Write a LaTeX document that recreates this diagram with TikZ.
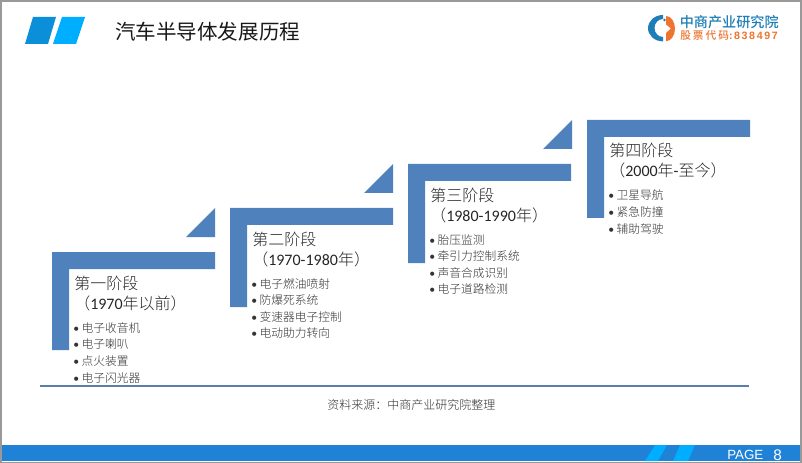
\documentclass[tikz,border=0pt]{standalone}
\usepackage{fontspec}
\setmainfont{Carlito}
\newfontfamily\cjk{Noto Sans CJK SC}
\newfontfamily\cjklight{Noto Sans CJK SC Light}
\newfontfamily\cjkmed{Noto Sans CJK SC Medium}
\newfontfamily\cjkmedsp[LetterSpace=19]{Noto Sans CJK SC Medium}
\newfontfamily\arialf{Liberation Sans}
\newfontfamily\arialsp[LetterSpace=15,BoldFont={Liberation Sans Bold}]{Liberation Sans}
\definecolor{stepblue}{HTML}{4F81BD}
\definecolor{barblue}{HTML}{1F82D6}
\definecolor{lightcyan}{HTML}{00AEFF}
\definecolor{darkcyan}{HTML}{0A8FD8}
\definecolor{logoblue}{HTML}{1E7FB8}
\definecolor{logoorange}{HTML}{EE7430}
\definecolor{rulegrey}{HTML}{999999}
\definecolor{rulenavy}{HTML}{5B7FA8}
\tikzset{
  stepfill/.style={fill=stepblue,draw=none},
  headtext/.style={inner sep=0pt,anchor=west,font=\cjklight\fontsize{12}{14}\selectfont,text=black!85},
  itemtext/.style={inner sep=0pt,anchor=west,font=\cjklight\fontsize{8.8}{10}\selectfont,text=black!80},
}
\newcommand{\yr}[1]{{\fontspec{Carlito}#1}}
\begin{document}
\begin{tikzpicture}[x=0.75pt,y=-0.75pt]
\useasboundingbox (0,0) rectangle (802,463);
\fill[white] (0,0) rectangle (802,463);
% frame
\fill[barblue] (0,445) rectangle (802,461);
\draw[rulegrey,line width=1.5pt] (0.7,463) -- (0.7,0.9) -- (801.3,0.9) -- (801.3,463);
\draw[rulegrey,line width=1.2pt] (0,462.4) -- (802,462.4);
% header marks
\fill[darkcyan] (25,44) -- (33,17) -- (56,17) -- (48,44) -- cycle;
\fill[lightcyan] (53,44) -- (62,17) -- (85,17) -- (76,44) -- cycle;
\node[inner sep=0pt,anchor=west,font=\cjk\fontsize{15.4}{18}\selectfont,text=black!90] (title) at (115,31.5) {汽车半导体发展历程};
% logo
\fill[logoblue] (663,15) arc (270:90:15 and 13.2) -- (663,37) arc (90:270:8.5 and 9) -- cycle;
\fill[logoorange] (666,16) arc (270:450:9 and 12.6) -- (666,33) -- (671,28.5) -- (666,24.5) -- cycle;
\fill[logoblue] (664.5,20) circle (1.3);
\node[inner sep=0pt,anchor=west,font=\cjkmed\fontsize{10.6}{12}\selectfont,text=logoblue] (brand) at (679.5,22.5) {中商产业研究院};
\node[inner sep=0pt,anchor=west,font=\cjkmedsp\fontsize{8}{9}\selectfont,text=logoorange] (code) at (680,36) {股票代码{\arialsp\bfseries :838497}};
% stage 1
\fill[stepfill] (52,252) -- (215,252) -- (215,269) -- (69,269) -- (69,350) -- (52,350) -- cycle;
\fill[stepfill] (186,237) -- (215,208) -- (215,237) -- cycle;
\node[headtext] (s1a) at (74,283) {第一阶段};
\node[headtext] (s1b) at (74,303) {（\yr{1970}年以前）};
\node[itemtext] (s1i1) at (73,328) {\yr{•} 电子收音机};
\node[itemtext] (s1i2) at (73,344) {\yr{•} 电子喇叭};
\node[itemtext] (s1i3) at (73,361) {\yr{•} 点火装置};
\node[itemtext] (s1i4) at (73,378) {\yr{•} 电子闪光器};
% stage 2
\fill[stepfill] (230,208) -- (393,208) -- (393,225) -- (247,225) -- (247,307) -- (230,307) -- cycle;
\fill[stepfill] (364,193) -- (393,164) -- (393,193) -- cycle;
\node[headtext] (s2a) at (252,239) {第二阶段};
\node[headtext] (s2b) at (252,259) {（\yr{1970-1980}年）};
\node[itemtext] (s2i1) at (251,284) {\yr{•} 电子燃油喷射};
\node[itemtext] (s2i2) at (251,300) {\yr{•} 防爆死系统};
\node[itemtext] (s2i3) at (251,317) {\yr{•} 变速器电子控制};
\node[itemtext] (s2i4) at (251,333) {\yr{•} 电动助力转向};
% stage 3
\fill[stepfill] (408,164) -- (571,164) -- (571,181) -- (425,181) -- (425,263) -- (408,263) -- cycle;
\fill[stepfill] (543,149) -- (572,120) -- (572,149) -- cycle;
\node[headtext] (s3a) at (430,195) {第三阶段};
\node[headtext] (s3b) at (430,215) {（\yr{1980-1990}年）};
\node[itemtext] (s3i1) at (429,240) {\yr{•} 胎压监测};
\node[itemtext] (s3i2) at (429,256) {\yr{•} 牵引力控制系统};
\node[itemtext] (s3i3) at (429,273) {\yr{•} 声音合成识别};
\node[itemtext] (s3i4) at (429,289) {\yr{•} 电子道路检测};
% stage 4
\fill[stepfill] (587,120) -- (750,120) -- (750,137) -- (604,137) -- (604,218) -- (587,218) -- cycle;
\node[headtext] (s4a) at (609,150) {第四阶段};
\node[headtext] (s4b) at (609,170) {（\yr{2000}年\yr{-}至今）};
\node[itemtext] (s4i1) at (608,195) {\yr{•} 卫星导航};
\node[itemtext] (s4i2) at (608,212) {\yr{•} 紧急防撞};
\node[itemtext] (s4i3) at (608,229) {\yr{•} 辅助驾驶};
% rule and source
\draw[rulenavy,line width=1.1pt] (40,386) -- (749,386);
\node[inner sep=0pt,anchor=west,font=\cjklight\fontsize{9}{11}\selectfont,text=black!80] (source) at (327,405) {资料来源：中商产业研究院整理};
% footer
\fill[lightcyan] (645,461) -- (655,445) -- (667,445) -- (658,461) -- cycle;
\fill[lightcyan] (673,461) -- (680,445) -- (695,445) -- (688,461) -- cycle;
\node[inner sep=0pt,anchor=west,font=\arialf\fontsize{10}{11}\selectfont,text=white] (page) at (727,455) {PAGE};
\node[inner sep=0pt,anchor=west,font=\arialf\fontsize{11.5}{13}\selectfont,text=white] (pagenum) at (773,455.5) {8};
\end{tikzpicture}
\end{document}
